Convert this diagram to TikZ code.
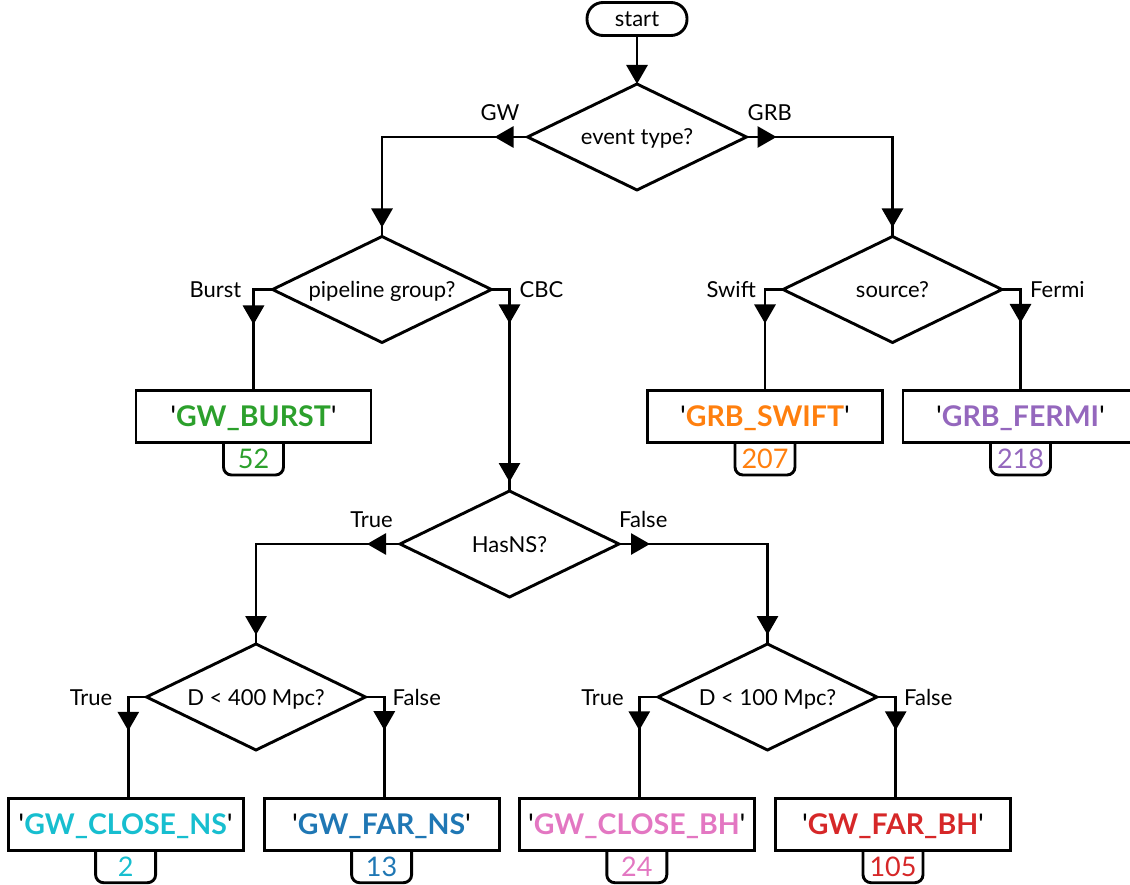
\documentclass[tikz,border=0pt]{standalone}
\usepackage{fontspec}
\setmainfont{Lato}
\usetikzlibrary{arrows.meta,shapes.geometric,decorations.markings}
\definecolor{cgreen}{HTML}{2CA02C}
\definecolor{corange}{HTML}{FF7F0E}
\definecolor{cpurple}{HTML}{9467BD}
\definecolor{ccyan}{HTML}{17BECF}
\definecolor{cblue}{HTML}{1F77B4}
\definecolor{cpink}{HTML}{E377C2}
\definecolor{cred}{HTML}{D62728}
\newcommand\qlabel[2]{\textquotesingle\textcolor{#1}{\textbf{#2}}\textquotesingle}
\begin{document}
\begin{tikzpicture}[x=1pt,y=-1pt,
  lw/.style={line width=2.9pt},
  txt/.style={font=\fontsize{22}{26}\selectfont, text height=16pt, text depth=0pt},
  dec/.style={diamond, draw, lw, txt, minimum width=219pt, minimum height=106pt, inner sep=0pt, outer sep=0pt, aspect=2},
  startbox/.style={rectangle, draw, lw, txt, rounded corners=16pt, minimum width=100pt, minimum height=33pt, inner sep=0pt, outer sep=0pt},
  outbox/.style={rectangle, draw, lw, font=\fontsize{28.5}{32}\selectfont, text height=20pt, text depth=0pt, minimum width=235pt, minimum height=52pt, inner sep=0pt, outer sep=0pt},
  tab/.style={rectangle, font=\fontsize{27}{30}\selectfont, text height=19.5pt, text depth=0pt, minimum width=60pt, minimum height=32.5pt, inner sep=0pt, outer sep=0pt, anchor=north},
  tabline/.style={lw, rounded corners=8pt},
  lbl/.style={txt, inner sep=0pt},
  conn/.style={lw},
  tip/.style={postaction={decorate, decoration={markings, mark=at position #1 with {\arrow{Triangle[length=19pt,width=21pt]}}}}}
]
\clip (0,0) rectangle (1130,885);

% decisions
\node[startbox] (start) at (637,19) {start};
\node[dec] (ev) at (637,137) {event type?};
\node[dec] (pg) at (382,289.5) {pipeline group?};
\node[dec] (src) at (892.5,289.5) {source?};
\node[dec] (hns) at (509.5,544) {HasNS?};
\node[dec] (d4) at (256,697) {D \textless{} 400 Mpc?};
\node[dec] (d1) at (767.5,697) {D \textless{} 100 Mpc?};

% outcome boxes
\node[outbox] (burst) at (253.5,416.5) {\qlabel{cgreen}{GW\_BURST}};
\node[outbox] (swift) at (765,416.5) {\qlabel{corange}{GRB\_SWIFT}};
\node[outbox] (fermi) at (1020.5,416.5) {\qlabel{cpurple}{GRB\_FERMI}};
\node[outbox] (cns) at (125.6,824.2) {\qlabel{ccyan}{GW\_CLOSE\_NS}};
\node[outbox] (fns) at (381.6,824.2) {\qlabel{cblue}{GW\_FAR\_NS}};
\node[outbox] (cbh) at (636.8,824.2) {\qlabel{cpink}{GW\_CLOSE\_BH}};
\node[outbox] (fbh) at (893,824.2) {\qlabel{cred}{GW\_FAR\_BH}};

% count tabs
\foreach \b/\n/\c in {burst/52/cgreen, swift/207/corange, fermi/218/cpurple, cns/2/ccyan, fns/13/cblue, cbh/24/cpink, fbh/105/cred}{
  \node[tab, text=\c] (t\b) at (\b.south) {\n};
  \draw[tabline] (t\b.north west) -- (t\b.south west) -- (t\b.south east) -- (t\b.north east);
}

% connectors
\draw[conn, -{Triangle[length=19pt,width=21pt]}] (start) -- (ev);
\draw[conn, tip=33pt, tip=-9pt] (ev.west) -| (pg.north);
\draw[conn, tip=30pt, tip=-9pt] (ev.east) -| (src.north);
\draw[conn, tip=54pt] (pg.west) -| (burst.north);
\draw[conn, tip=52pt, tip=-9pt] (pg.east) -| (hns.north);
\draw[conn, tip=52pt] (src.west) -| (swift.north);
\draw[conn, tip=52pt] (src.east) -| (fermi.north);
\draw[conn, tip=33pt, tip=-9pt] (hns.west) -| (d4.north);
\draw[conn, tip=31pt, tip=-9pt] (hns.east) -| (d1.north);
\draw[conn, tip=52pt] (d4.west) -| ([xshift=2.7pt]cns.north);
\draw[conn, tip=52pt] (d4.east) -| ([xshift=2.7pt]fns.north);
\draw[conn, tip=52pt] (d1.west) -| ([xshift=2.5pt]cbh.north);
\draw[conn, tip=52pt] (d1.east) -| ([xshift=2.7pt]fbh.north);

% branch labels
\node[lbl, anchor=south east] (lgw) at ([shift={(-8,-16)}]ev.west) {GW};
\node[lbl, anchor=south west] (lgrb) at ([shift={(1,-16)}]ev.east) {GRB};
\node[lbl, anchor=east] (lburst) at ([shift={(-31,0)}]pg.west) {Burst};
\node[lbl, anchor=west] (lcbc) at ([shift={(28,0)}]pg.east) {CBC};
\node[lbl, anchor=east] (lswift) at ([shift={(-27,0)}]src.west) {Swift};
\node[lbl, anchor=west] (lfermi) at ([shift={(28,0)}]src.east) {Fermi};
\node[lbl, anchor=south east] (lt1) at ([shift={(-7,-16.5)}]hns.west) {True};
\node[lbl, anchor=south west] (lf1) at ([shift={(0,-16.5)}]hns.east) {False};
\node[lbl, anchor=east] (lt2) at ([shift={(-34,0)}]d4.west) {True};
\node[lbl, anchor=west] (lf2) at ([shift={(27,0)}]d4.east) {False};
\node[lbl, anchor=east] (lt3) at ([shift={(-34,0)}]d1.west) {True};
\node[lbl, anchor=west] (lf3) at ([shift={(27,0)}]d1.east) {False};
\end{tikzpicture}
\end{document}
